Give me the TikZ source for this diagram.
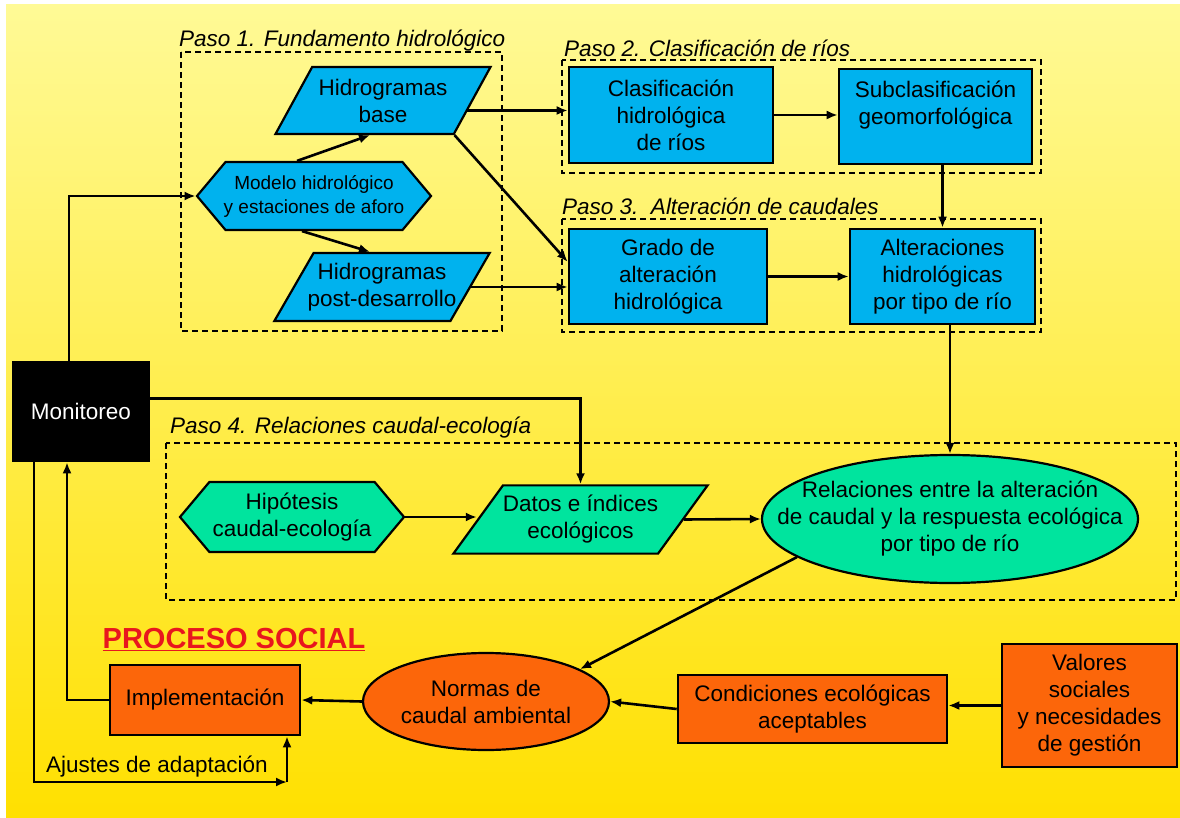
\documentclass[tikz,border=0pt]{standalone}
\usepackage{fontspec}
\setmainfont{Liberation Sans}
\usetikzlibrary{shapes.geometric,shapes.symbols,arrows.meta,calc}

\newlength{\du}
\setlength{\du}{1pt}

\definecolor{hydblue}{RGB}{0,178,238}
\definecolor{ecogreen}{RGB}{0,228,158}
\definecolor{socorange}{RGB}{252,102,10}
\definecolor{titlered}{RGB}{232,22,30}
\definecolor{bgtop}{RGB}{255,250,150}
\definecolor{bgmid}{RGB}{255,241,100}
\definecolor{bgbot}{RGB}{255,224,0}

\tikzset{
  txt/.style={font=\fontsize{22.5}{27}\selectfont, align=center, text=black},
  box/.style={txt, rectangle, draw=black, line width=2.6\du, inner sep=0pt},
  hydbox/.style={box, fill=hydblue},
  socbox/.style={box, fill=socorange},
  monbox/.style={box, fill=black, text=white},
  hydpara/.style={txt, trapezium, trapezium left angle=60, trapezium right angle=120,
    trapezium stretches body, draw=black, line width=2.2\du, fill=hydblue,
    inner xsep=0pt, inner ysep=10\du},
  ecopara/.style={hydpara, trapezium left angle=54, trapezium right angle=126, fill=ecogreen},
  hydhex/.style={txt, signal, signal to=west and east, signal from=nowhere,
    signal pointer angle=100, draw=black, line width=2.2\du, fill=hydblue, inner sep=0pt},
  ecohex/.style={hydhex, fill=ecogreen},
  ecoell/.style={txt, ellipse, draw=black, line width=2.2\du, fill=ecogreen, inner ysep=0pt},
  socell/.style={ecoell, fill=socorange, inner sep=0pt},
  grp/.style={draw=black, line width=1.5\du, dash pattern=on 6pt off 4pt},
  pasolbl/.style={font=\fontsize{22.5}{27}\selectfont\itshape, anchor=west, inner sep=0pt},
  conn/.style={line width=2.6\du, -{Latex[length=11pt,width=9pt]}}
}

\begin{document}
\begin{tikzpicture}[x=1\du, y=-1\du]
% fondo
\fill[white] (0,0) rectangle (1180,818);
\shade[top color=bgtop, middle color=bgmid, bottom color=bgbot] (6,5) rectangle (1180,818);
\useasboundingbox (0,0) rectangle (1180,818);

% grupos
\draw[grp] (181,52) rectangle (502,331);
\draw[grp] (562,60) rectangle (1041,173);
\draw[grp] (562,219) rectangle (1041,332);
\draw[grp] (166,443) rectangle (1176,600);
\node[pasolbl] (paso1) at (179,41) {Paso 1. Fundamento hidrológico};
\node[pasolbl] (paso2) at (564,48) {Paso 2. Clasificación de ríos};
\node[pasolbl] (paso3) at (562,206) {Paso 3.\ \ Alteración de caudales};
\node[pasolbl] (paso4) at (170,428) {Paso 4. Relaciones caudal-ecología};

% paso 1
\node[hydpara, minimum width=215\du, minimum height=67\du] (base) at (383,100.5) {Hidrogramas\\base};
\node[hydhex, font=\fontsize{19}{24}\selectfont, inner xsep=-2\du, minimum width=234\du, minimum height=68\du] (modelo) at (314,196) {Modelo hidrológico\\y estaciones de aforo};
\node[hydpara, inner xsep=-6\du, minimum width=215\du, minimum height=68\du] (post) at (382,287) {Hidrogramas\\post-desarrollo};

% pasos 2 y 3
\node[hydbox, minimum width=204\du, minimum height=96\du] (clasif) at (671,115) {Clasificación\\hidrológica\\de ríos};
\node[hydbox, minimum width=193\du, minimum height=95\du] (subclas) at (935.5,116.5) {Subclasificación\\geomorfológica\\\mbox{}};
\node[hydbox, minimum width=198\du, minimum height=95\du] (grado) at (668,276.5) {Grado de\\alteración\\hidrológica};
\node[hydbox, minimum width=185\du, minimum height=95\du] (alter) at (942.5,276.5) {Alteraciones\\hidrológicas\\por tipo de río};

\node[monbox, minimum width=136\du, minimum height=99\du] (mon) at (81,411.5) {Monitoreo};

% paso 4
\node[ecohex, minimum width=224\du, minimum height=70\du] (hipo) at (292,517) {Hipótesis\\caudal-ecología};
\node[ecopara, minimum width=254\du, minimum height=67\du] (datos) at (580.5,519.5) {Datos e índices\\ecológicos};
\node[ecoell, inner xsep=-40\du, minimum width=376\du, minimum height=128\du] (rel) at (950,519) {Relaciones entre la alteración\\de caudal y la respuesta ecológica\\por tipo de río};

% proceso social
\node[font=\fontsize{29}{34}\selectfont\bfseries, text=titlered, inner sep=0pt] (social) at (234,640) {\underline{PROCESO SOCIAL}};
\node[socell, minimum width=246\du, minimum height=97\du] (norm) at (486,701.5) {Normas de\\caudal ambiental};
\node[socbox, minimum width=269\du, minimum height=68\du] (cond) at (812.5,709) {Condiciones ecológicas\\aceptables};
\node[socbox, minimum width=175\du, minimum height=123\du] (val) at (1089.5,705.5) {Valores\\sociales\\y necesidades\\de gestión};
\node[socbox, minimum width=190\du, minimum height=70\du] (impl) at (205,700) {Implementación};
\node[txt, anchor=west, inner sep=0pt] (ajustes) at (46,767) {Ajustes de adaptación};

% conectores
\draw[conn] ($(mon.north)+(-12,0)$) |- (modelo.west);
\draw[conn] ($(modelo.north)+(-17,0)$) -- ($(base.south)+(-13,0)$);
\draw[conn] ($(modelo.south)+(-12,0)$) -- ($(post.north)+(-12,0)$);
\coordinate (b1) at ($(base.east)+(-6,10)$);
\draw[conn] (b1) -- (b1 -| clasif.west);
\draw[conn] (base.bottom right corner) -- ($(grado.north west)!0.35!(grado.south west)$);
\draw[conn] (post.east) -- (post.east -| grado.west);
\draw[conn] (clasif.east) -- (clasif.east -| subclas.west);
\draw[conn] (subclas.south -| alter.north) -- (alter.north);
\draw[conn] (grado.east) -- (grado.east -| alter.west);
\draw[conn] (alter.south -| rel.north) -- (rel.north);
\draw[conn] ($(mon.east)+(0,-13)$) -| (datos.north);
\draw[conn] (hipo.east) -- (hipo.east -| datos.west);
\draw[conn] (datos.east) -- (rel.west);
\draw[conn] (rel.194) -- (norm.19);
\draw[conn] (val.west) -- (val.west -| cond.east);
\draw[conn] (cond.west) -- (norm.east);
\draw[conn] (norm.west) -- (impl.east);
\draw[conn] (impl.west) -| ($(mon.south)+(-14,0)$);
\coordinate (adj) at (287,782);
\draw[conn] ($(mon.south)+(-47,0)$) |- (adj);
\draw[conn] (adj) -- (adj |- impl.south);
\end{tikzpicture}
\end{document}
